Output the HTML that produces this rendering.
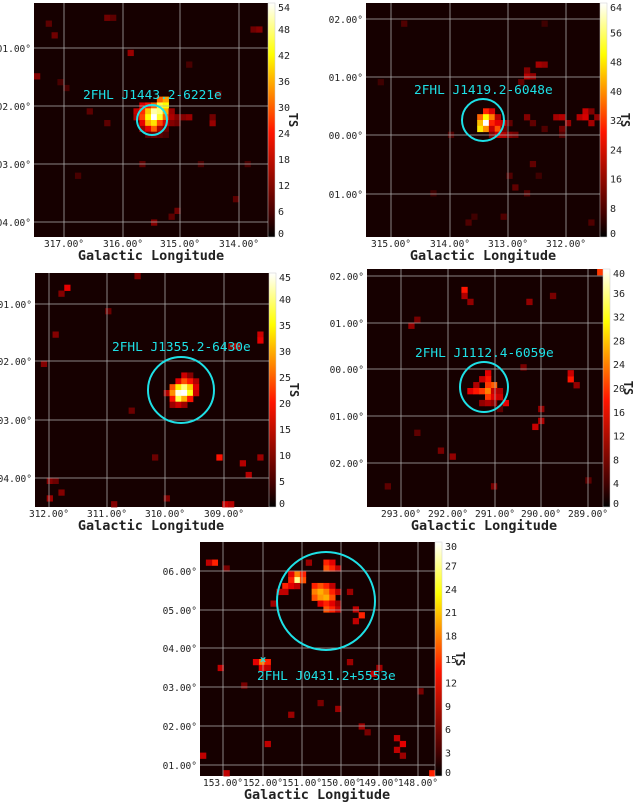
<!DOCTYPE html>
<html><head><meta charset="utf-8"><style>
html,body{margin:0;padding:0;background:#fff;}
svg{display:block;}
text{font-family:"DejaVu Sans Mono","Liberation Mono",monospace;}
</style></head><body>
<svg id="fig" width="637" height="803" viewBox="0 0 637 803" xmlns="http://www.w3.org/2000/svg"></svg>
<script>
// ---- data: heatmap cells [col,row,TS] on a 40x40 grid per panel ----
const p1Cells=[[21,16,30],[22,16,35],[18,17,20],[19,17,24],[20,17,30],[21,17,45],[22,17,42],[17,18,18],[18,18,26],[19,18,38],[20,18,50],[21,18,48],[22,18,36],[23,18,14],[17,19,16],[18,19,28],[19,19,42],[20,19,54],[21,19,44],[22,19,30],[23,19,16],[24,19,12],[25,19,12],[26,19,14],[18,20,22],[19,20,36],[20,20,40],[21,20,28],[22,20,20],[23,20,12],[24,20,10],[18,21,14],[19,21,22],[20,21,30],[21,21,16],[22,21,10],[19,22,8],[20,22,10],[21,22,8],[22,22,6],
[2,3,8],[3,5,10],[0,12,12],[5,14,6],[16,8,14],[26,10,6],[12,20,8],[30,20,14],[30,19,10],[9,18,8],[28,27,6],[37,4,10],[38,4,12],[34,33,8],[24,35,10],[23,36,8],[20,37,12],[7,29,6],[4,13,6],[36,27,6],[31,15,8],[18,27,8],[12,2,10],[13,2,8]];
const p2Cells=[[20,18,30],[21,18,24],[19,19,36],[20,19,50],[21,19,38],[22,19,20],[19,20,44],[20,20,64],[21,20,30],[22,20,26],[23,20,22],[19,21,48],[20,21,40],[21,21,22],[22,21,34],[23,21,28],[21,22,14],[22,22,22],[23,22,20],[24,22,14],[25,22,12],
[27,19,14],[28,20,10],[32,19,18],[33,19,20],[34,20,16],[36,19,20],[37,18,22],[37,19,24],[38,20,18],[39,19,16],[38,18,14],[33,21,12],[30,21,8],[29,10,18],[30,10,16],[27,12,20],[28,12,16],[27,11,14],[26,13,10],[23,21,12],[24,20,10],
[23,36,8],[25,31,10],[27,32,8],[28,27,10],[6,3,8],[2,13,6],[14,22,8],[30,3,6],[33,22,8],[24,29,8],[29,29,6],[11,32,6],[38,37,8],[17,37,8],[18,36,6]];
const p3Cells=[[25,17,16],[26,17,10],[24,18,18],[25,18,24],[26,18,20],[27,18,14],[23,19,24],[24,19,34],[25,19,40],[26,19,32],[27,19,18],[22,20,14],[23,20,28],[24,20,44],[25,20,45],[26,20,36],[27,20,16],[23,21,20],[24,21,38],[25,21,30],[26,21,20],[23,22,12],[24,22,16],[25,22,12],
[5,2,18],[4,3,10],[3,10,10],[1,15,10],[33,12,10],[34,12,14],[38,10,16],[38,11,18],[17,0,10],[22,38,10],[32,39,16],[33,39,14],[13,39,10],[31,31,20],[36,34,14],[38,31,12],[35,32,14],[16,23,8],[12,6,8],[20,31,8],[2,38,12],[4,37,10],[2,35,10],[3,35,8]];
const p4Cells=[[20,17,16],[20,18,18],[19,18,14],[21,19,22],[20,19,20],[18,19,12],[17,20,16],[18,20,18],[19,20,20],[20,20,24],[21,20,14],[22,20,12],[20,21,20],[21,21,16],[22,21,14],[19,22,10],[20,22,12],[21,22,10],[23,22,16],
[16,3,18],[16,4,12],[17,5,10],[27,5,10],[31,4,8],[39,0,20],[8,8,8],[7,9,10],[26,16,8],[34,18,18],[34,17,14],[35,19,10],[29,25,12],[28,26,14],[29,23,10],[12,30,8],[14,31,10],[8,27,6],[21,36,8],[22,23,6],[3,36,6],[37,35,6]];
const p5Cells=[[21,3,14],[22,3,12],[21,4,16],[22,4,14],[23,4,10],[16,5,18],[17,5,14],[15,5,12],[16,6,27],[17,6,16],[15,6,14],[14,7,14],[15,7,12],[16,7,10],[19,7,14],[20,7,16],[21,7,14],[22,7,10],[13,8,10],[14,8,10],[19,8,18],[20,8,20],[21,8,18],[22,8,14],[23,8,10],[19,9,16],[20,9,19],[21,9,20],[22,9,16],[20,10,12],[21,10,14],[22,10,12],[23,10,8],[21,11,16],[22,11,14],[23,11,10],[26,11,10],[27,12,14],[26,13,10],[12,10,8],[25,8,8],
[10,20,18],[11,20,14],[9,20,12],[10,21,12],[11,21,10],
[2,3,14],[1,3,10],[18,3,8],[4,4,6],[3,21,10],[23,28,8],[7,24,6],[11,34,10],[27,31,8],[28,32,6],[33,33,10],[34,34,12],[33,35,10],[34,36,8],[39,39,14],[4,39,10],[0,36,10],[25,20,8],[29,22,10],[30,21,8],[37,25,6],[15,29,8],[20,27,6]];
const p1X=["317.00°","316.00°","315.00°","314.00°"], p1Y=["01.00°","02.00°","03.00°","04.00°"], p1C=[0,6,12,18,24,30,36,42,48,54];
const p2X=["315.00°","314.00°","313.00°","312.00°"], p2Y=["02.00°","01.00°","00.00°","01.00°"], p2C=[0,8,16,24,32,40,48,56,64];
const p3X=["312.00°","311.00°","310.00°","309.00°"], p3Y=["01.00°","02.00°","03.00°","04.00°"], p3C=[0,5,10,15,20,25,30,35,40,45];
const p4X=["293.00°","292.00°","291.00°","290.00°","289.00°"], p4Y=["02.00°","01.00°","00.00°","01.00°","02.00°"], p4C=[0,4,8,12,16,20,24,28,32,36,40];
const p5X=["153.00°","152.00°","151.00°","150.00°","149.00°","148.00°"], p5Y=["06.00°","05.00°","04.00°","03.00°","02.00°","01.00°"], p5C=[0,3,6,9,12,15,18,21,24,27,30];
const labels=["2FHL J1443.2-6221e","2FHL J1419.2-6048e","2FHL J1355.2-6430e","2FHL J1112.4-6059e","2FHL J0431.2+5553e"];

const NS="http://www.w3.org/2000/svg";
const svg=document.getElementById('fig');
function mk(tag,attrs,parent){const e=document.createElementNS(NS,tag);for(const k in attrs)e.setAttribute(k,attrs[k]);(parent||svg).appendChild(e);return e;}
function hot(t){t=Math.max(0,Math.min(1,t));
 const r=Math.min(1,0.05+t/0.45*0.95), g=Math.max(0,Math.min(1,(t-0.42)/0.36)), b=Math.max(0,Math.min(1,(t-0.78)/0.22));
 return `rgb(${Math.round(r*255)},${Math.round(g*255)},${Math.round(b*255)})`;}

const panels=[
 {cells:p1Cells,xl:p1X,yl:p1Y,cb:p1C,x:34,y:3,w:234,h:234,gx:[64,123,180,239],gy:[48,106,164,222],circ:[152,120,15,15],lab:[83,99],ttl:[151,260]},
 {cells:p2Cells,xl:p2X,yl:p2Y,cb:p2C,x:366,y:3,w:234,h:234,gx:[391,450,508,566],gy:[19,77,135,194],circ:[483,120,21,21],lab:[414,94],ttl:[483,260]},
 {cells:p3Cells,xl:p3X,yl:p3Y,cb:p3C,x:35,y:273,w:234,h:234,gx:[49,107,165,224],gy:[304,361,420,478],circ:[181,390,33,33],lab:[112,351],ttl:[151,530]},
 {cells:p4Cells,xl:p4X,yl:p4Y,cb:p4C,x:367,y:269,w:236,h:238,gx:[401,448,495,541,588],gy:[276,323,369,416,463],circ:[484,387,24,25],lab:[415,357],ttl:[484,530]},
 {cells:p5Cells,xl:p5X,yl:p5Y,cb:p5C,x:200,y:542,w:235,h:234,gx:[223,263,302,341,379,418],gy:[571,610,648,687,726,765],circ:[326,601,49,49],lab:[257,680],ttl:[317,799]}
];
const N=40;
panels.forEach((p,i)=>{
 const g=mk('g',{});
 
 
 const maxV=p.cb[p.cb.length-1];
 const cw=p.w/N, ch=p.h/N;
 const bg=mk('rect',{x:p.x,y:p.y,width:p.w,height:p.h,fill:'#160000'},g);
 
 
 p.cells.forEach(c=>{
  const r=mk('rect',{x:(p.x+c[0]*cw).toFixed(2),y:(p.y+c[1]*ch).toFixed(2),width:(cw+0.4).toFixed(2),height:(ch+0.4).toFixed(2),fill:hot(c[2]/maxV)},g);
  
  
 });
 p.gx.forEach(x=>{const l=mk('line',{x1:x,x2:x,y1:p.y,y2:p.y+p.h,stroke:'#b0b0b0','stroke-width':1,'stroke-opacity':0.75},g);
  });
 p.gy.forEach(y=>{const l=mk('line',{x1:p.x,x2:p.x+p.w,y1:y,y2:y,stroke:'#b0b0b0','stroke-width':1,'stroke-opacity':0.75},g);
  });
 const c=mk('ellipse',{cx:p.circ[0],cy:p.circ[1],rx:p.circ[2],ry:p.circ[3],fill:'none',stroke:'#1ee0e6','stroke-width':2},g);
 
 if(i===4){const m=mk('text',{x:263,y:663,'font-size':11,fill:'#1ee0e6','text-anchor':'middle','font-weight':'bold'},g);m.textContent='×';
  }
 const t=mk('text',{x:p.lab[0],y:p.lab[1],'font-size':12.8,fill:'#1ee0e6'},g);t.textContent=labels[i];
 
 p.xl.forEach((s,k)=>{const e=mk('text',{x:p.gx[k],y:p.y+p.h+10,'font-size':9.5,fill:'#222','text-anchor':'middle'},g);e.textContent=s;
  });
 p.yl.forEach((s,k)=>{const e=mk('text',{x:p.x-3,y:p.gy[k]+4,'font-size':9.5,fill:'#222','text-anchor':'end'},g);e.textContent=s;
  });
 const at=mk('text',{x:p.ttl[0],y:p.ttl[1],'font-size':13.5,'font-weight':'bold',fill:'#222','text-anchor':'middle',
  'font-family':'"Liberation Mono",monospace'},g);at.textContent='Galactic Longitude';
 
 const cbx=p.x+p.w, gid='cbg'+i;
 const defs=mk('defs',{},g);const lg=mk('linearGradient',{id:gid,x1:0,y1:1,x2:0,y2:0},defs);
 [[0,'#000'],[0.1,hot(0.1)],[0.45,hot(0.45)],[0.78,hot(0.78)],[1,hot(1)]].forEach(s=>mk('stop',{offset:s[0],'stop-color':s[1]},lg));
 const cb=mk('rect',{x:cbx,y:p.y,width:7,height:p.h,fill:`url(#${gid})`,stroke:'#ccc','stroke-width':0.5},g);
 
 p.cb.forEach(v=>{const yy=p.y+p.h-(v/maxV)*p.h;
  const e=mk('text',{x:cbx+10,y:Math.min(p.y+p.h,Math.max(p.y+8,yy+4)),'font-size':10,fill:'#222'},g);e.textContent=v;
  });
 const ts=mk('text',{x:0,y:0,'font-size':12,'font-weight':'bold',fill:'#222','text-anchor':'middle',
  transform:`translate(${cbx+21},${p.y+p.h/2}) rotate(90)`},g);ts.textContent='TS';
 
});
</script>
</body></html>
